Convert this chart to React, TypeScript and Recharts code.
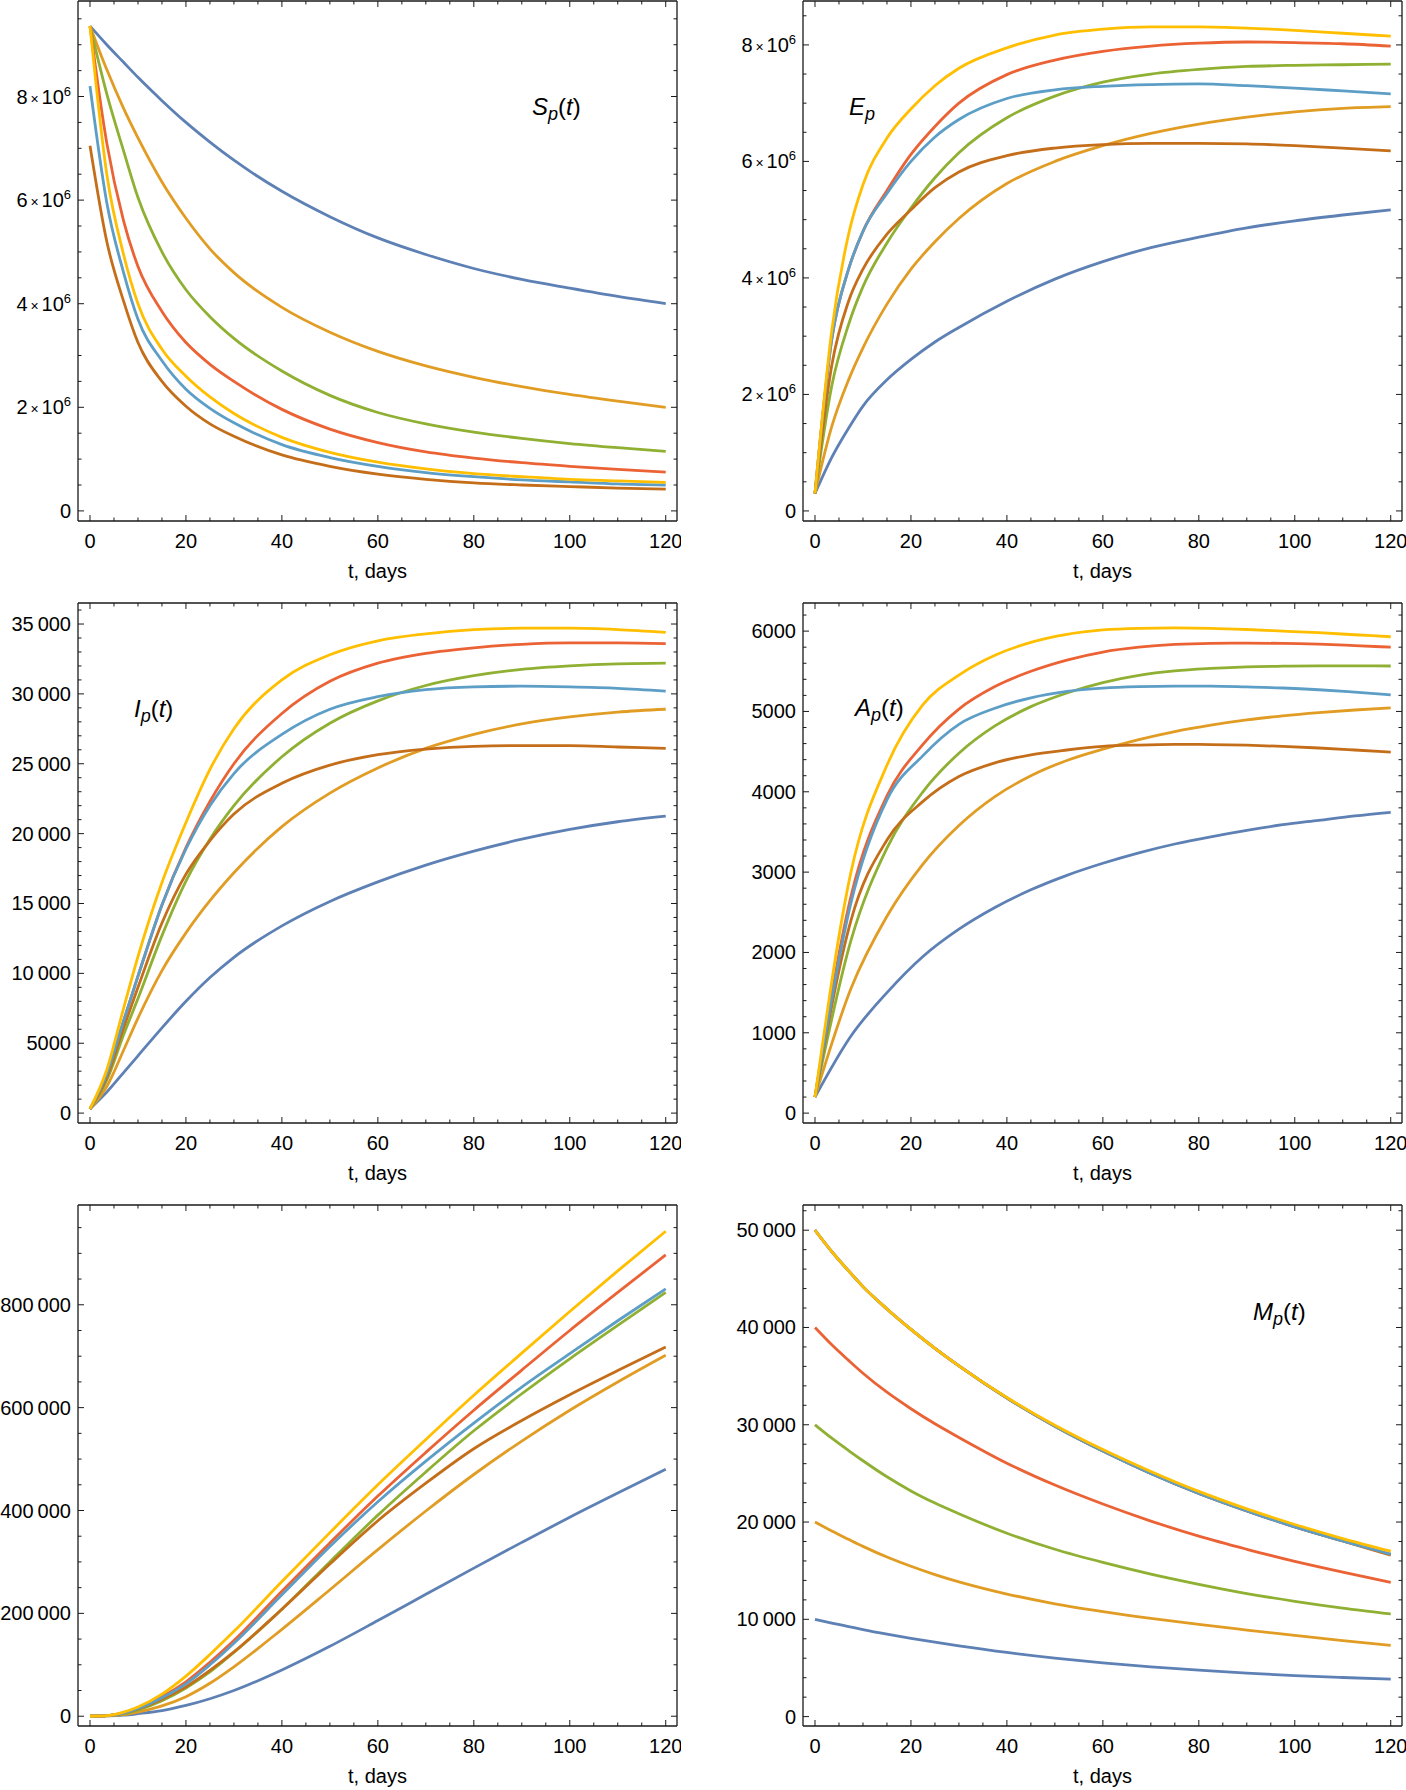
import React from "react";
import { LineChart, Line, XAxis, YAxis } from "recharts";

// Mathematica default palette, in drawing order (later = on top)
const COLORS: Record<string, string> = {
    blue: "#5E81B5",
    orange: "#E19C24",
    green: "#8FB032",
    red: "#EB6235",
    purple: "#8778B3",
    brown: "#C56E1A",
    lblue: "#5D9EC7",
    yellow: "#FFBF00",
};

const days = [0, 3.5, 7, 10, 15, 20, 25, 30, 40, 50, 60, 70, 80, 90, 100, 110, 120];
const daysA = [0, 7.5, 15, 22.5, 30, 37.5, 45, 52.5, 60, 67.5, 75, 82.5, 90, 97.5, 105, 112.5, 120];

// S_p(t), millions
const S_blue = [9.36, 9.0, 8.66, 8.37, 7.92, 7.5, 7.12, 6.77, 6.17, 5.68, 5.27, 4.95, 4.68, 4.47, 4.3, 4.14, 4.0];
const S_orange = [9.36, 8.52, 7.77, 7.2, 6.35, 5.65, 5.06, 4.6, 3.93, 3.45, 3.08, 2.8, 2.58, 2.4, 2.25, 2.12, 2.0];
const S_green = [9.36, 8.05, 6.95, 6.05, 5.0, 4.27, 3.75, 3.33, 2.7, 2.23, 1.9, 1.68, 1.52, 1.4, 1.3, 1.22, 1.15];
const S_red = [9.36, 7.1, 5.6, 4.72, 3.85, 3.25, 2.83, 2.5, 1.96, 1.58, 1.32, 1.14, 1.02, 0.93, 0.86, 0.8, 0.75];
const S_brown = [7.05, 5.2, 4.05, 3.25, 2.5, 2.02, 1.68, 1.44, 1.08, 0.86, 0.71, 0.61, 0.54, 0.5, 0.47, 0.44, 0.42];
const S_lblue = [8.2, 5.95, 4.6, 3.7, 2.9, 2.35, 1.98, 1.7, 1.28, 1.03, 0.86, 0.74, 0.66, 0.6, 0.56, 0.52, 0.5];
const S_yellow = [9.36, 6.5, 4.95, 4.0, 3.12, 2.6, 2.2, 1.88, 1.42, 1.13, 0.94, 0.81, 0.72, 0.66, 0.61, 0.58, 0.55];

// E_p, millions
const E_blue = [0.3, 0.92, 1.42, 1.8, 2.25, 2.6, 2.9, 3.15, 3.6, 3.98, 4.28, 4.52, 4.7, 4.86, 4.98, 5.08, 5.17];
const E_orange = [0.3, 1.45, 2.25, 2.8, 3.55, 4.15, 4.62, 5.02, 5.62, 6.0, 6.27, 6.48, 6.64, 6.76, 6.85, 6.91, 6.94];
const E_green = [0.3, 2.15, 3.2, 3.85, 4.6, 5.2, 5.72, 6.15, 6.75, 7.12, 7.36, 7.5, 7.58, 7.63, 7.65, 7.66, 7.67];
const E_red = [0.3, 2.95, 4.15, 4.8, 5.5, 6.12, 6.6, 7.0, 7.49, 7.74, 7.89, 7.98, 8.03, 8.05, 8.04, 8.02, 7.98];
const E_brown = [0.3, 2.5, 3.6, 4.15, 4.75, 5.17, 5.55, 5.82, 6.1, 6.23, 6.29, 6.31, 6.31, 6.3, 6.27, 6.23, 6.18];
const E_lblue = [0.3, 2.95, 4.15, 4.8, 5.45, 6.0, 6.42, 6.72, 7.08, 7.23, 7.29, 7.32, 7.33, 7.3, 7.26, 7.21, 7.16];
const E_yellow = [0.3, 3.1, 4.75, 5.6, 6.4, 6.9, 7.3, 7.6, 7.95, 8.17, 8.27, 8.31, 8.31, 8.29, 8.25, 8.2, 8.15];

// I_p(t), thousands
const I_blue = [0.3, 1.5, 2.9, 4.1, 6.1, 8.0, 9.7, 11.15, 13.4, 15.15, 16.55, 17.75, 18.75, 19.6, 20.3, 20.85, 21.25];
const I_orange = [0.3, 1.9, 4.5, 6.8, 10.2, 12.9, 15.2, 17.2, 20.5, 22.9, 24.7, 26.1, 27.1, 27.85, 28.35, 28.7, 28.9];
const I_green = [0.3, 2.35, 5.6, 8.2, 12.7, 16.6, 19.6, 22.0, 25.5, 27.9, 29.5, 30.6, 31.3, 31.75, 32.0, 32.15, 32.2];
const I_red = [0.3, 2.8, 6.6, 9.8, 14.9, 19.0, 22.3, 25.0, 28.6, 30.9, 32.2, 32.9, 33.3, 33.55, 33.65, 33.65, 33.6];
const I_brown = [0.3, 2.55, 6.1, 9.0, 13.6, 17.1, 19.5, 21.4, 23.6, 24.9, 25.65, 26.05, 26.25, 26.3, 26.3, 26.2, 26.1];
const I_lblue = [0.3, 2.8, 6.6, 9.8, 14.9, 18.9, 22.0, 24.3, 27.1, 28.9, 29.8, 30.3, 30.5, 30.55, 30.5, 30.4, 30.2];
const I_yellow = [0.3, 3.1, 7.5, 11.2, 16.5, 20.8, 24.6, 27.5, 31.0, 32.8, 33.8, 34.3, 34.6, 34.7, 34.7, 34.6, 34.4];

// A_p(t), sampled every 7.5 days
const A_blue = [200, 960, 1500, 1950, 2290, 2560, 2780, 2960, 3110, 3240, 3350, 3440, 3520, 3590, 3645, 3700, 3745];
const A_orange = [200, 1550, 2450, 3100, 3580, 3940, 4200, 4390, 4530, 4650, 4750, 4830, 4895, 4945, 4985, 5018, 5044];
const A_green = [200, 2150, 3300, 4000, 4480, 4820, 5060, 5230, 5360, 5450, 5505, 5535, 5555, 5563, 5567, 5568, 5566];
const A_red = [200, 2700, 3950, 4590, 5030, 5310, 5500, 5640, 5740, 5800, 5835, 5848, 5850, 5848, 5838, 5820, 5800];
const A_brown = [200, 2400, 3400, 3880, 4190, 4360, 4460, 4520, 4565, 4582, 4590, 4588, 4580, 4565, 4545, 4520, 4493];
const A_lblue = [200, 2620, 3900, 4450, 4840, 5040, 5170, 5250, 5290, 5308, 5315, 5315, 5305, 5292, 5270, 5240, 5207];
const A_yellow = [200, 3000, 4330, 5084, 5453, 5700, 5860, 5960, 6015, 6035, 6040, 6035, 6020, 6000, 5980, 5955, 5930];

// cumulative panel, thousands
const R_blue = [0, 0.5, 2, 5, 11, 21, 34, 50, 90, 136, 186, 237, 288, 338, 387, 434, 480];
const R_orange = [0, 0.5, 3, 8, 20, 38, 64, 96, 169, 246, 324, 399, 470, 535, 595, 650, 702];
const R_green = [0, 1, 5, 12, 30, 55, 86, 124, 208, 300, 391, 475, 555, 627, 695, 760, 824];
const R_red = [0, 1, 7, 16, 38, 67, 105, 147, 243, 337, 428, 513, 595, 673, 750, 824, 897];
const R_brown = [0, 1, 6, 14, 33, 57, 89, 125, 208, 296, 380, 453, 520, 575, 625, 672, 718];
const R_lblue = [0, 1, 6, 15, 36, 63, 100, 142, 236, 330, 417, 496, 570, 640, 705, 769, 831];
const R_yellow = [0, 1, 8, 18, 43, 78, 120, 165, 262, 357, 450, 538, 624, 706, 787, 866, 943];

// M_p(t), thousands
const M_blue = [10.0, 9.62, 9.26, 8.95, 8.48, 8.05, 7.65, 7.28, 6.6, 6.02, 5.53, 5.12, 4.77, 4.47, 4.22, 4.02, 3.85];
const M_orange = [20.0, 19.08, 18.22, 17.5, 16.4, 15.45, 14.6, 13.85, 12.6, 11.6, 10.8, 10.1, 9.47, 8.9, 8.35, 7.82, 7.32];
const M_green = [30.0, 28.62, 27.35, 26.3, 24.65, 23.2, 21.95, 20.85, 18.85, 17.2, 15.85, 14.65, 13.6, 12.65, 11.85, 11.15, 10.55];
const M_red = [40.0, 38.22, 36.62, 35.3, 33.35, 31.65, 30.1, 28.7, 26.05, 23.8, 21.85, 20.1, 18.55, 17.2, 15.95, 14.85, 13.8];
const M_purple = [50.0, 47.8, 45.82, 44.2, 41.9, 39.8, 37.85, 36.05, 32.75, 29.85, 27.3, 25.0, 22.95, 21.15, 19.5, 18.05, 16.7];
const M_brown = [50.0, 47.8, 45.82, 44.2, 41.9, 39.8, 37.85, 36.05, 32.75, 29.85, 27.3, 25.0, 22.95, 21.15, 19.5, 18.05, 16.6];
const M_lblue = [50.0, 47.8, 45.82, 44.2, 41.9, 39.8, 37.85, 36.05, 32.75, 29.85, 27.3, 25.0, 22.95, 21.15, 19.5, 18.05, 16.7];
const M_yellow = [50.0, 47.8, 45.82, 44.2, 41.9, 39.8, 37.85, 36.05, 32.8, 29.95, 27.45, 25.2, 23.15, 21.35, 19.75, 18.3, 17.0];

const xTicks = [0, 5, 10, 15, 20, 25, 30, 35, 40, 45, 50, 55, 60, 65, 70, 75, 80, 85, 90, 95, 100, 105, 110, 115, 120];
const X_DOMAIN: [number, number] = [-2.5, 122.35];

const FONT = '"Liberation Sans", Arial, Helvetica, sans-serif';
const INK = "#1a1a1a";

function table(times: number[], series: Record<string, number[]>, scale: number) {
    return times.map((t, i) => {
        const row: Record<string, number> = { t };
        Object.keys(series).forEach((k) => {
            row[k] = series[k][i] * scale;
        });
        return row;
    });
}

function tickList(step: number, max: number) {
    const out: number[] = [];
    for (let i = 0; i * step <= max; i++) out.push(i * step);
    return out;
}

const grouped = (v: number) =>
    v >= 10000 ? String(v).replace(/\B(?=(\d{3})+(?!\d))/g, "\u2009") : String(v);

const sci = (v: number) =>
    v === 0 ? (
        "0"
    ) : (
        <>
            <tspan>{v / 1e6}</tspan>
            <tspan fontSize={14}>{"\u2009\u00d7\u2009"}</tspan>
            <tspan>10</tspan>
            <tspan fontSize={13} dy={-8}>6</tspan>
        </>
    );

// Mathematica style: ticks point inward, labels outside
const makeTick =
    (side: string, major: (v: number) => boolean, fmt?: (v: number) => React.ReactNode) =>
    (props: any) => {
        const { x, y, payload } = props;
        const v = payload.value;
        const big = major(v);
        const len = big ? 6 : 3.5;
        let x2 = x;
        let y2 = y;
        if (side === "left") x2 = x + len;
        else if (side === "right") x2 = x - len;
        else if (side === "top") y2 = y + len;
        else y2 = y - len;
        return (
            <g>
                <line x1={x} y1={y} x2={x2} y2={y2} stroke={INK} strokeWidth={1} />
                {fmt && big && side === "left" && (
                    <text x={x - 7} y={y} dy="0.35em" textAnchor="end" fontSize={20} fill="#000" fontFamily={FONT}>
                        {fmt(v)}
                    </text>
                )}
                {fmt && big && side === "bottom" && (
                    <text x={x} y={y + 27} textAnchor="middle" fontSize={20} fill="#000" fontFamily={FONT}>
                        {fmt(v)}
                    </text>
                )}
            </g>
        );
    };

const xMajor = (v: number) => v % 20 === 0;
const xBottom = makeTick("bottom", xMajor, (v) => String(v));
const xTop = makeTick("top", xMajor);

interface PanelProps {
    left: number;
    top: number;
    plotH: number;
    rows: Record<string, number>[];
    keys: string[];
    yDomain: [number, number];
    yTicks: number[];
    yMajorStep: number;
    yFmt: (v: number) => React.ReactNode;
    title?: React.ReactNode;
}

const Panel: React.FC<PanelProps> = ({ left, top, plotH, rows, keys, yDomain, yTicks, yMajorStep, yFmt, title }) => {
    const W = 681;
    const H = 1 + plotH + 62;
    const yMajor = (v: number) => v % yMajorStep === 0;
    const frame = { stroke: INK, strokeWidth: 1.3 };
    return (
        <div style={{ position: "absolute", left, top, width: W, height: H }}>
            <LineChart width={W} height={H} data={rows} margin={{ top: 0, right: 3, bottom: 0, left: 8 }}>
                <XAxis
                    xAxisId="b"
                    dataKey="t"
                    type="number"
                    domain={X_DOMAIN}
                    allowDataOverflow
                    ticks={xTicks}
                    interval={0}
                    height={62}
                    tickSize={0}
                    tickMargin={0}
                    tickLine={false}
                    axisLine={frame}
                    tick={xBottom}
                    label={{ value: "t, days", position: "insideBottom", offset: 5, fontSize: 20, fill: "#000", fontFamily: FONT }}
                />
                <XAxis
                    xAxisId="t"
                    orientation="top"
                    dataKey="t"
                    type="number"
                    domain={X_DOMAIN}
                    allowDataOverflow
                    ticks={xTicks}
                    interval={0}
                    height={1}
                    tickSize={0}
                    tickMargin={0}
                    tickLine={false}
                    axisLine={frame}
                    tick={xTop}
                />
                <YAxis
                    yAxisId="l"
                    type="number"
                    domain={yDomain}
                    allowDataOverflow
                    ticks={yTicks}
                    interval={0}
                    width={70}
                    tickSize={0}
                    tickMargin={0}
                    tickLine={false}
                    axisLine={frame}
                    tick={makeTick("left", yMajor, yFmt)}
                />
                <YAxis
                    yAxisId="r"
                    orientation="right"
                    type="number"
                    domain={yDomain}
                    allowDataOverflow
                    ticks={yTicks}
                    interval={0}
                    width={1}
                    tickSize={0}
                    tickMargin={0}
                    tickLine={false}
                    axisLine={frame}
                    tick={makeTick("right", yMajor)}
                />
                {keys.map((k) => (
                    <Line
                        key={k}
                        xAxisId="b"
                        yAxisId="l"
                        dataKey={k}
                        type="monotone"
                        stroke={COLORS[k]}
                        strokeWidth={2.8}
                        dot={false}
                        activeDot={false}
                        isAnimationActive={false}
                    />
                ))}
                <Line
                    xAxisId="t"
                    yAxisId="r"
                    dataKey={keys[0]}
                    stroke="none"
                    dot={false}
                    activeDot={false}
                    isAnimationActive={false}
                />
            </LineChart>
            {title && (
                <svg
                    width={W}
                    height={H}
                    style={{ position: "absolute", left: 0, top: 0, pointerEvents: "none" }}
                    fontFamily={FONT}
                >
                    {title}
                </svg>
            )}
        </div>
    );
};

const Title = ({ x, y, main, sub, arg }: { x: number; y: number; main: string; sub: string; arg: boolean }) => (
    <text x={x} y={y} fontSize={24} fill="#000">
        <tspan fontStyle="italic">{main}</tspan>
        <tspan fontStyle="italic" fontSize={18} dy={5}>
            {sub}
        </tspan>
        {arg && (
            <>
                <tspan dy={-5}>(</tspan>
                <tspan fontStyle="italic">t</tspan>
                <tspan>)</tspan>
            </>
        )}
    </text>
);

const sRows = table(days, { blue: S_blue, orange: S_orange, green: S_green, red: S_red, brown: S_brown, lblue: S_lblue, yellow: S_yellow }, 1e6);
const eRows = table(days, { blue: E_blue, orange: E_orange, green: E_green, red: E_red, brown: E_brown, lblue: E_lblue, yellow: E_yellow }, 1e6);
const iRows = table(days, { blue: I_blue, orange: I_orange, green: I_green, red: I_red, brown: I_brown, lblue: I_lblue, yellow: I_yellow }, 1e3);
const aRows = table(daysA, { blue: A_blue, orange: A_orange, green: A_green, red: A_red, brown: A_brown, lblue: A_lblue, yellow: A_yellow }, 1);
const rRows = table(days, { blue: R_blue, orange: R_orange, green: R_green, red: R_red, brown: R_brown, lblue: R_lblue, yellow: R_yellow }, 1e3);
const mRows = table(days, { blue: M_blue, orange: M_orange, green: M_green, red: M_red, purple: M_purple, brown: M_brown, lblue: M_lblue, yellow: M_yellow }, 1e3);

const SEVEN = ["blue", "orange", "green", "red", "brown", "lblue", "yellow"];
const EIGHT = ["blue", "orange", "green", "red", "purple", "brown", "lblue", "yellow"];

const COL = [0, 724.5];
const ROW = [0, 602, 1204];

export default function App() {
    return (
        <div
            style={{
                position: "absolute",
                left: 0,
                top: 0,
                width: 1406,
                height: 1790,
                overflow: "hidden",
                background: "#fff",
                fontFamily: FONT,
            }}
        >
            <Panel
                left={COL[0]}
                top={ROW[0]}
                plotH={520}
                rows={sRows}
                keys={SEVEN}
                yDomain={[-0.195e6, 9.844e6]}
                yTicks={tickList(0.5e6, 9.5e6)}
                yMajorStep={2e6}
                yFmt={sci}
                title={<Title x={532} y={115} main="S" sub="p" arg />}
            />
            <Panel
                left={COL[1]}
                top={ROW[0]}
                plotH={520}
                rows={eRows}
                keys={SEVEN}
                yDomain={[-0.173e6, 8.754e6]}
                yTicks={tickList(0.5e6, 8.5e6)}
                yMajorStep={2e6}
                yFmt={sci}
                title={<Title x={124} y={115} main="E" sub="p" arg={false} />}
            />
            <Panel
                left={COL[0]}
                top={ROW[1]}
                plotH={520}
                rows={iRows}
                keys={SEVEN}
                yDomain={[-708, 36504]}
                yTicks={tickList(1000, 36000)}
                yMajorStep={5000}
                yFmt={grouped}
                title={<Title x={134} y={115} main="I" sub="p" arg />}
            />
            <Panel
                left={COL[1]}
                top={ROW[1]}
                plotH={520}
                rows={aRows}
                keys={SEVEN}
                yDomain={[-123, 6350]}
                yTicks={tickList(200, 6200)}
                yMajorStep={1000}
                yFmt={grouped}
                title={<Title x={130} y={114} main="A" sub="p" arg />}
            />
            <Panel
                left={COL[0]}
                top={ROW[2]}
                plotH={521}
                rows={rRows}
                keys={SEVEN}
                yDomain={[-19000, 994000]}
                yTicks={tickList(50000, 950000)}
                yMajorStep={200000}
                yFmt={grouped}
            />
            <Panel
                left={COL[1]}
                top={ROW[2]}
                plotH={521}
                rows={mRows}
                keys={EIGHT}
                yDomain={[-966, 52590]}
                yTicks={tickList(2000, 52000)}
                yMajorStep={10000}
                yFmt={grouped}
                title={<Title x={528} y={116} main="M" sub="p" arg />}
            />
        </div>
    );
}
